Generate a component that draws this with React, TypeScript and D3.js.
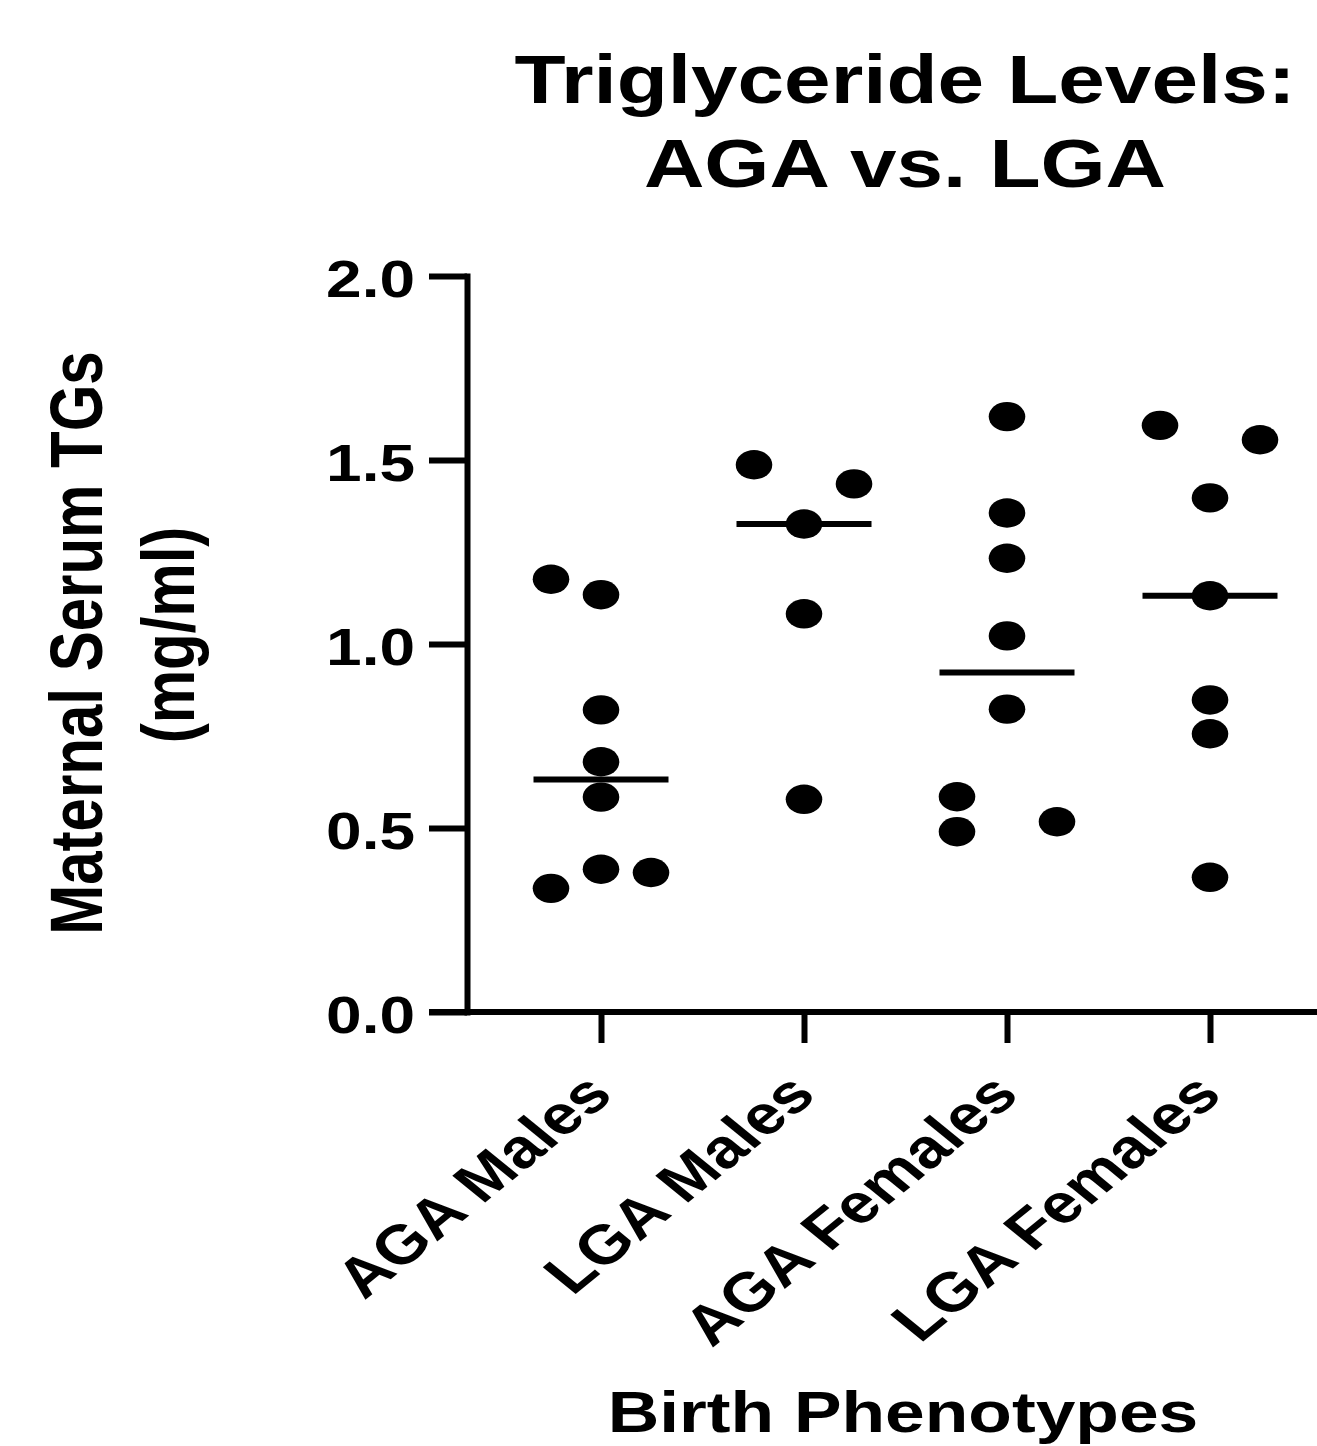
import React, { useRef, useEffect } from "react";
import * as d3 from "d3";

const categories = ["AGA Males", "LGA Males", "AGA Females", "LGA Females"];

// values (mg/ml), with the column each dot sits in (-1 left, 0 centre, 1 right)
const agaMales = [1.176, 1.134, 0.821, 0.68, 0.584, 0.336, 0.388, 0.379];
const agaMalesCols = [-1, 0, 0, 0, 0, -1, 0, 1];
const lgaMales = [1.487, 1.435, 1.326, 1.082, 0.578];
const lgaMalesCols = [-1, 1, 0, 0, 0];
const agaFemales = [1.618, 1.356, 1.233, 1.022, 0.823, 0.585, 0.49, 0.517];
const agaFemalesCols = [0, 0, 0, 0, 0, -1, -1, 1];
const lgaFemales = [1.594, 1.555, 1.397, 1.131, 0.848, 0.756, 0.366];
const lgaFemalesCols = [-1, 1, 0, 0, 0, 0, 0];

const yTicks = [0, 0.5, 1.0, 1.5, 2.0];

const groups = [
  { name: categories[0], values: agaMales, cols: agaMalesCols },
  { name: categories[1], values: lgaMales, cols: lgaMalesCols },
  { name: categories[2], values: agaFemales, cols: agaFemalesCols },
  { name: categories[3], values: lgaFemales, cols: lgaFemalesCols },
];

const FONT = "'Liberation Sans', Arial, Helvetica, sans-serif";
const SX = 1.23; // the picture is stretched sideways

const App = () => {
  const svgRef = useRef<SVGSVGElement>(null);

  useEffect(() => {
    const svg = d3.select(svgRef.current);
    svg.selectAll("*").remove();

    const width = 1317;
    const height = 1446;
    const axisX = 467;
    const lw = 6;

    const y = d3.scaleLinear().domain([0, 2]).range([1012, 276]);
    const x = d3.scalePoint<string>().domain(categories).range([601, 1210]);

    svg.append("rect").attr("width", width).attr("height", height).attr("fill", "#fff");

    // Title
    const title = ["Triglyceride Levels:", "AGA vs. LGA"];
    title.forEach((t, i) => {
      svg
        .append("text")
        .attr("transform", `translate(905,${103 + i * 84}) scale(${SX},1)`)
        .attr("text-anchor", "middle")
        .attr("font-family", FONT)
        .attr("font-weight", "bold")
        .attr("font-size", 68)
        .text(t);
    });

    // Y axis
    const yAxis = svg
      .append("g")
      .attr("transform", `translate(${axisX},0)`)
      .call(d3.axisLeft(y).tickValues(yTicks).tickSize(38).tickSizeOuter(0).tickFormat(d3.format(".1f")));
    yAxis.select(".domain").attr("stroke-width", lw).attr("stroke-linecap", "square");
    yAxis.selectAll(".tick line").attr("stroke-width", lw);
    yAxis.selectAll(".tick text").remove();

    yTicks.forEach((t) => {
      svg
        .append("text")
        .attr("transform", `translate(415,${y(t) + 21}) scale(${SX},1)`)
        .attr("text-anchor", "end")
        .attr("font-family", FONT)
        .attr("font-weight", "bold")
        .attr("font-size", 52)
        .text(d3.format(".1f")(t));
    });

    // X axis
    svg
      .append("line")
      .attr("x1", axisX - 38)
      .attr("x2", width + 20)
      .attr("y1", y(0))
      .attr("y2", y(0))
      .attr("stroke", "#000")
      .attr("stroke-width", lw);

    const xAxis = svg
      .append("g")
      .attr("transform", `translate(0,${y(0)})`)
      .call(d3.axisBottom(x).tickSize(31).tickSizeOuter(0).tickFormat(() => ""));
    xAxis.select(".domain").remove();
    xAxis.selectAll(".tick line").attr("stroke-width", lw);

    categories.forEach((c) => {
      svg
        .append("text")
        .attr("transform", `translate(${(x(c) as number) + 14},1097) scale(${SX},1) rotate(-45)`)
        .attr("text-anchor", "end")
        .attr("font-family", FONT)
        .attr("font-weight", "bold")
        .attr("font-size", 55)
        .text(c);
    });

    // Axis titles
    svg
      .append("text")
      .attr("transform", `translate(102,643) scale(${SX},1) rotate(-90)`)
      .attr("text-anchor", "middle")
      .attr("font-family", FONT)
      .attr("font-weight", "bold")
      .attr("font-size", 60)
      .text("Maternal Serum TGs");

    svg
      .append("text")
      .attr("transform", `translate(194,635) scale(${SX},1) rotate(-90)`)
      .attr("text-anchor", "middle")
      .attr("font-family", FONT)
      .attr("font-weight", "bold")
      .attr("font-size", 60)
      .text("(mg/ml)");

    svg
      .append("text")
      .attr("transform", `translate(903,1432) scale(${SX},1)`)
      .attr("text-anchor", "middle")
      .attr("font-family", FONT)
      .attr("font-weight", "bold")
      .attr("font-size", 58)
      .text("Birth Phenotypes");

    // Dots and median lines
    const colStep = 50;
    const halfLine = 67.5;

    groups.forEach((g) => {
      const cx = x(g.name) as number;
      const med = d3.median(g.values) as number;

      svg
        .append("g")
        .selectAll("ellipse")
        .data(g.values)
        .join("ellipse")
        .attr("cx", (d, i) => cx + g.cols[i] * colStep)
        .attr("cy", (d) => y(d))
        .attr("rx", 18.3)
        .attr("ry", 14.7)
        .attr("fill", "#000");

      svg
        .append("line")
        .attr("x1", cx - halfLine)
        .attr("x2", cx + halfLine)
        .attr("y1", y(med))
        .attr("y2", y(med))
        .attr("stroke", "#000")
        .attr("stroke-width", lw);
    });
  }, []);

  return (
    <svg
      ref={svgRef}
      width={1317}
      height={1446}
      style={{ position: "absolute", left: 0, top: 0, display: "block" }}
    ></svg>
  );
};

export default App;
